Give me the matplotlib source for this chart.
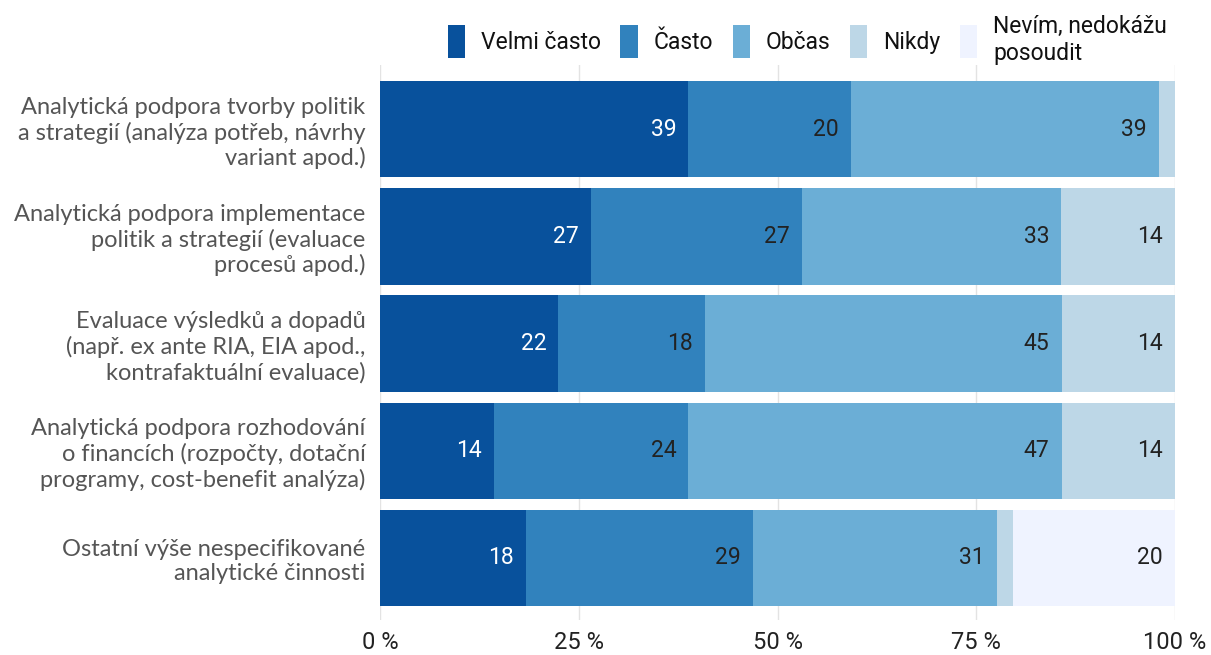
import matplotlib.pyplot as plt
from matplotlib.patches import Patch
import numpy as np

categories = [
    "Analytická podpora tvorby politik\na strategií (analýza potřeb, návrhy\nvariant apod.)",
    "Analytická podpora implementace\npolitik a strategií (evaluace\nprocesů apod.)",
    "Evaluace výsledků a dopadů\n(např. ex ante RIA, EIA apod.,\nkontrafaktuální evaluace)",
    "Analytická podpora rozhodování\no financích (rozpočty, dotační\nprogramy, cost-benefit analýza)",
    "Ostatní výše nespecifikované\nanalytické činnosti",
]
series = ["Velmi často", "Často", "Občas", "Nikdy", "Nevím, nedokážu\nposoudit"]
velmi_casto = [38.78, 26.53, 22.45, 14.29, 18.37]
casto = [20.41, 26.53, 18.37, 24.49, 28.57]
obcas = [38.78, 32.65, 44.90, 46.94, 30.61]
nikdy = [2.04, 14.29, 14.29, 14.29, 2.04]
nevim = [0.0, 0.0, 0.0, 0.0, 20.41]
colors = ["#08519c", "#3182bd", "#6baed6", "#bdd7e7", "#eff3ff"]
text_colors = ["white", "#222222", "#222222", "#222222", "#222222"]

values = [velmi_casto, casto, obcas, nikdy, nevim]

fig = plt.figure(figsize=(12.11, 6.55), dpi=100)
ax = fig.add_axes([0.3138, 0.0534, 0.9703 - 0.3138, 0.9008 - 0.0534])

y = np.arange(len(categories))
left = np.zeros(len(categories))
for vals, col, tcol in zip(values, colors, text_colors):
    vals = np.array(vals)
    ax.barh(y, vals, left=left, height=0.9, color=col, zorder=2)
    for yi, (l, v) in enumerate(zip(left, vals)):
        if v >= 5:
            ax.annotate(f"{v:.0f}", (l + v, yi), xytext=(-12, 0),
                        textcoords="offset pixels", ha="right", va="center",
                        fontsize=16.5, color=tcol, family="Roboto", zorder=3)
    left += vals

ax.set_xlim(0, 100)
ax.set_ylim(4.58, -0.6)
ax.set_xticks([0, 25, 50, 75, 100])
ax.set_xticklabels(["0 %", "25 %", "50 %", "75 %", "100 %"],
                   fontsize=17, color="#222222", family="Roboto")
ax.set_yticks(y)
ax.set_yticklabels(categories, fontsize=17, color="#555555", family="Lato",
                   linespacing=1.2)
ax.tick_params(axis="y", length=0, pad=10.5)
ax.tick_params(axis="x", length=0, pad=8)
ax.grid(axis="x", color="#e3e3e3", linewidth=1, zorder=0)
for s in ax.spines.values():
    s.set_visible(False)

handles = [Patch(facecolor=c, edgecolor="none") for c in colors]
ax.legend(handles, series, ncol=5, loc="lower right",
          bbox_to_anchor=(0.99, 1.0), frameon=False,
          prop={"family": "Roboto", "size": 16.5}, labelcolor="#111111",
          handlelength=0.75, handleheight=1.85, handletextpad=0.7,
          columnspacing=0.85, borderaxespad=0, borderpad=0)

fig.savefig("out.png", dpi=100)
